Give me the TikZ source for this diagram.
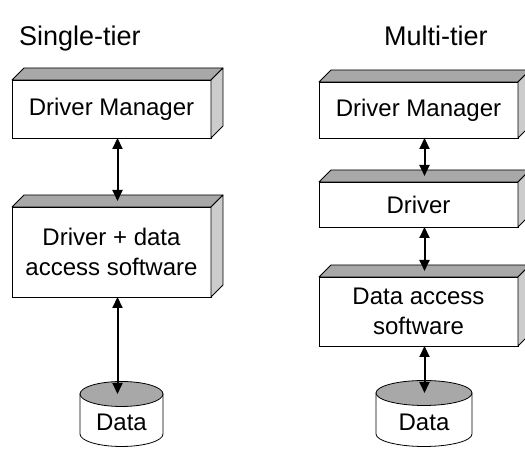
\documentclass[tikz,border=0pt]{standalone}
\usepackage{fontspec}
\setmainfont{Liberation Sans}
\usetikzlibrary{arrows.meta,calc}
\definecolor{topgray}{gray}{0.66}
\definecolor{sidegray}{gray}{0.80}
\tikzset{
  front/.style={draw=black, line width=0.8pt, fill=white, inner sep=0pt, outer sep=0pt,
    align=center, font=\fontsize{24}{29.5}\selectfont, anchor=north west},
  topface/.style={draw=black, line width=0.8pt, fill=topgray, line join=round},
  sideface/.style={draw=black, line width=0.8pt, fill=sidegray, line join=round},
  link/.style={line width=2pt, {Triangle[width=10pt,length=11pt]}-{Triangle[width=10pt,length=11pt]}},
  title/.style={font=\fontsize{27}{31}\selectfont, anchor=base west, inner sep=0pt},
  cylline/.style={draw=black, line width=0.8pt},
  cyltext/.style={font=\fontsize{24}{29.5}\selectfont, inner sep=0pt},
}
% name, x1, x2, ytop, ybot, dx, dy, text
\newcommand{\tdbox}[8]{%
  \node[front, minimum width=#3-#2, minimum height=#4-#5] (#1) at (#2,#4) {#8};
  \draw[topface] (#1.north west) -- ++(#6,#7) -- ($(#1.north east)+(#6,#7)$) -- (#1.north east) -- cycle;
  \draw[sideface] (#1.north east) -- ++(#6,#7) -- ($(#1.south east)+(#6,#7)$) -- (#1.south east) -- cycle;
  \coordinate (#1-top) at ($(#1.north)+(#6/2,#7/2)$);
}
% name, cx, rx, ytop, ybot, ry, text, texty
\newcommand{\dbcyl}[8]{%
  \draw[cylline, fill=white] (#2-#3,#4) -- (#2-#3,#5)
     arc[start angle=180, end angle=360, x radius=#3, y radius=#6] -- (#2+#3,#4) -- cycle;
  \draw[cylline, fill=topgray] (#2,#4) ellipse[x radius=#3, y radius=#6];
  \coordinate (#1-top) at (#2,#4);
  \node[cyltext] (#1) at (#2,#8) {#7};
}
\begin{document}
\begin{tikzpicture}[x=1pt,y=1pt]
\clip (0,0) rectangle (525,454);

\node[title] (t1) at (19,408) {Single-tier};
\node[title] (t2) at (384,408) {Multi-tier};

% single tier
\tdbox{ldm}{12}{211}{374}{316}{12}{12}{Driver Manager}
\tdbox{ldrv}{12}{211}{247}{157}{12}{12}{Driver + data\\access software}
\dbcyl{lcyl}{121.5}{41.5}{60}{20}{12.5}{Data}{32}

% multi tier
\tdbox{rdm}{319}{518}{372}{316}{12}{12}{Driver Manager}
\tdbox{rdrv}{319}{518}{272}{227}{12}{12}{Driver}
\tdbox{rda}{319}{518}{177}{108}{12}{12}{Data access\\software}
\dbcyl{rcyl}{424}{48}{61}{20}{12.5}{Data}{32}

% connectors
\draw[link] (ldm-top |- ldm.south) -- (ldrv-top);
\draw[link] (ldrv-top |- ldrv.south) -- (ldrv-top |- lcyl-top);
\draw[link] (rdm-top |- rdm.south) -- (rdrv-top);
\draw[link] (rdrv-top |- rdrv.south) -- (rda-top);
\draw[link] (rda-top |- rda.south) -- (rda-top |- rcyl-top);
\end{tikzpicture}
\end{document}
